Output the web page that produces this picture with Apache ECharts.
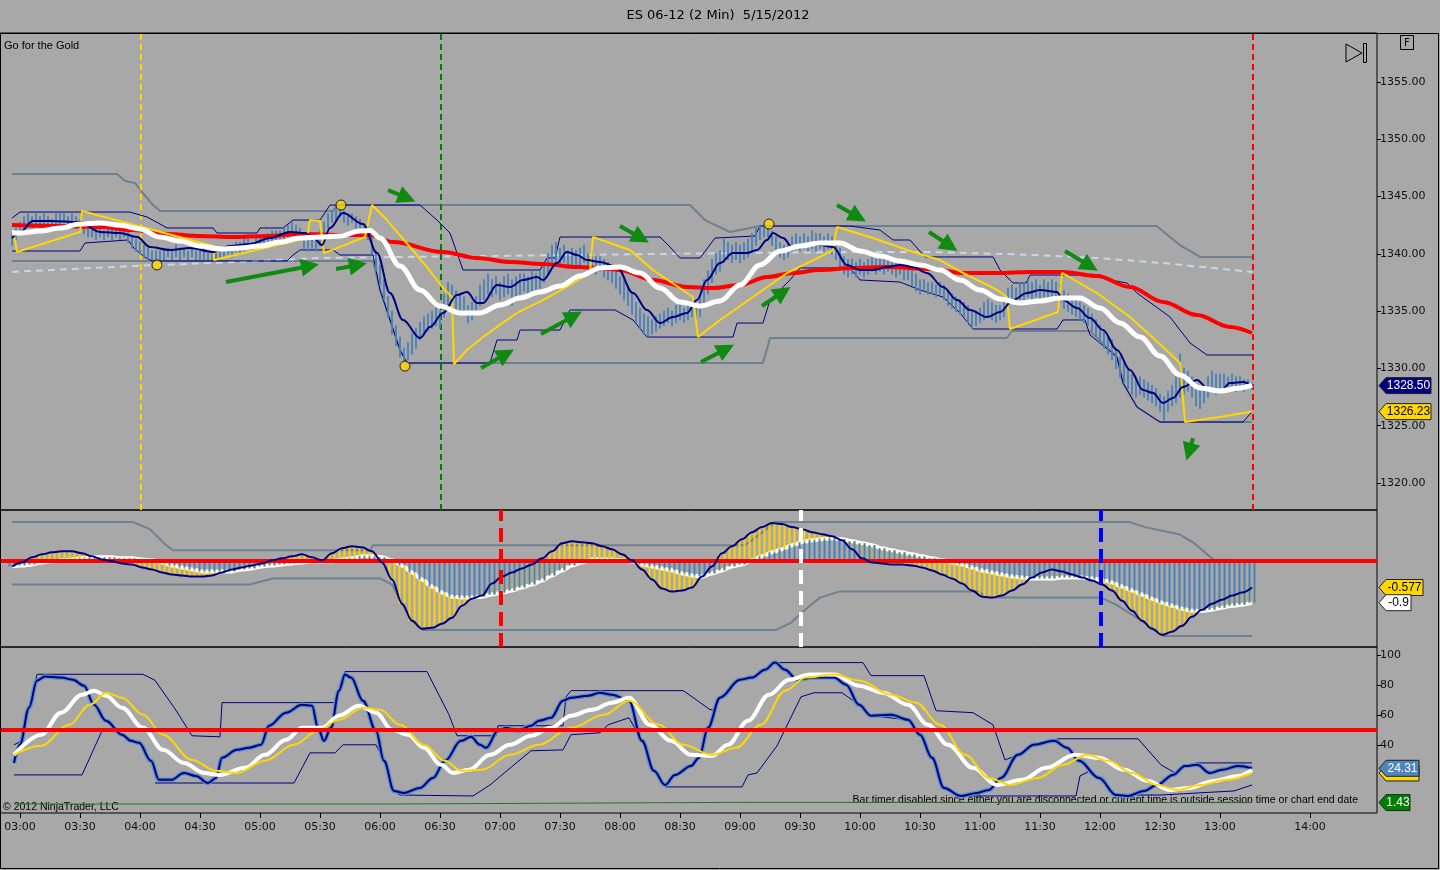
<!DOCTYPE html>
<html>
<head>
<meta charset="utf-8">
<title>ES 06-12 (2 Min) 5/15/2012</title>
<script src="https://cdn.jsdelivr.net/npm/echarts@6/dist/echarts.min.js"></script>
<style>
html,body{margin:0;padding:0;background:#a8a8a8;overflow:hidden;}
#chart{width:1440px;height:870px;}
</style>
</head>
<body>
<div id="chart"></div>
<script>
// ---------------- text ----------------
const chartTitle = 'ES 06-12 (2 Min)  5/15/2012';
const panelTitle = 'Go for the Gold';
const copyrightText = '\u00a9 2012 NinjaTrader, LLC';
const barTimerText = 'Bar timer disabled since either you are disconnected or current time is outside session time or chart end date';

// ---------------- ticks (minutes after 03:00) ----------------
const xTickMinutes = [0,30,60,90,120,150,180,210,240,270,300,330,360,390,420,450,480,510,540,570,600,645];
const xTickLabels = ['03:00','03:30','04:00','04:30','05:00','05:30','06:00','06:30','07:00','07:30','08:00','08:30','09:00','09:30','10:00','10:30','11:00','11:30','12:00','12:30','13:00','14:00'];
const priceTicks = [1320,1325,1330,1335,1340,1345,1350,1355];
const stochTicks = [40,60,80,100];

// ---------------- price bars (2-minute bars, first bar at minute -4) ----------------
const barStartMinute = -4;
const barStepMinutes = 2;
const barLow = [
1340.75,1341.25,1341.75,1342.25,1342.5,1342.25,1342.5,1342.25,1342.5,1342.5,
1342.25,1342.5,1342.5,1342.75,1342.25,1342.5,1342.25,1342.0,1341.75,1341.5,
1341.5,1341.25,1341.5,1341.25,1341.5,1341.25,1341.5,1341.25,1341.5,1341.0,
1340.5,1340.25,1340.0,1339.75,1339.5,1339.5,1339.5,1339.5,1339.5,1339.75,
1339.5,1339.75,1339.5,1339.75,1339.5,1339.75,1339.5,1339.5,1339.5,1339.5,
1339.5,1339.5,1339.5,1339.75,1340.0,1339.75,1340.25,1340.0,1340.25,1340.5,
1340.25,1340.5,1340.75,1340.5,1340.75,1341.0,1341.25,1341.0,1341.25,1341.5,
1341.75,1341.5,1341.25,1340.5,1340.25,1340.5,1340.25,1340.75,1341.5,1342.25,
1342.75,1343.0,1343.25,1342.75,1342.5,1342.75,1342.25,1342.0,1341.75,1341.25,
1340.0,1338.5,1337.25,1336.0,1334.5,1333.0,1332.0,1331.0,1330.5,1330.75,
1331.25,1331.75,1332.5,1333.0,1333.25,1333.5,1333.75,1333.5,1334.5,1335.5,
1335.75,1335.25,1335.0,1334.75,1334.0,1334.25,1334.75,1335.5,1336.0,1336.5,
1336.25,1336.5,1336.0,1336.25,1336.5,1335.5,1336.25,1336.5,1336.75,1336.5,
1336.75,1336.5,1337.0,1337.5,1338.25,1339.0,1339.25,1339.0,1339.25,1338.75,
1339.0,1338.75,1339.0,1339.25,1338.5,1338.75,1338.25,1338.5,1338.0,1337.75,
1337.5,1337.0,1336.5,1336.0,1335.5,1334.75,1334.0,1333.5,1333.0,1332.75,
1333.0,1333.25,1333.5,1333.75,1334.0,1333.75,1334.0,1334.25,1334.0,1334.25,
1334.5,1334.25,1334.5,1335.5,1336.5,1337.5,1338.25,1338.5,1339.25,1339.5,
1339.25,1339.5,1339.25,1339.5,1339.75,1340.25,1340.75,1341.25,1341.5,1341.5,
1340.75,1340.25,1339.75,1339.5,1339.75,1340.25,1340.5,1340.25,1340.5,1340.25,
1340.5,1340.25,1340.5,1340.25,1340.5,1340.0,1339.5,1338.75,1338.25,1338.0,
1338.25,1338.0,1338.25,1338.0,1338.25,1338.5,1338.25,1338.5,1338.25,1338.5,
1338.25,1338.0,1338.25,1337.75,1337.75,1337.25,1336.75,1336.5,1336.75,1336.5,
1336.5,1336.25,1336.5,1336.0,1335.5,1335.25,1335.0,1334.75,1334.5,1334.0,
1333.5,1333.75,1334.0,1334.25,1334.5,1334.25,1334.0,1334.25,1334.5,1335.25,
1335.75,1335.5,1335.75,1336.0,1336.25,1336.0,1336.25,1336.0,1336.25,1336.0,
1336.25,1336.0,1335.75,1335.25,1335.0,1334.75,1334.5,1334.25,1334.0,1333.75,
1333.25,1332.75,1332.25,1331.75,1331.25,1330.75,1330.0,1329.25,1328.75,1328.25,
1327.75,1327.5,1327.75,1327.5,1327.25,1327.0,1326.75,1326.25,1325.5,1326.25,
1326.75,1327.0,1327.5,1327.75,1328.0,1327.5,1326.75,1326.5,1327.0,1327.5,
1328.0,1327.75,1328.0,1328.25,1328.0,1328.25,1328.0,1328.25,1328.0,1328.25,
1328.25];
const barHigh = [
1341.75,1342.25,1342.75,1343.25,1343.5,1343.25,1343.5,1343.25,1343.5,1343.25,
1343.0,1343.5,1343.5,1343.5,1343.25,1343.5,1343.25,1343.0,1342.75,1342.5,
1342.25,1342.25,1342.5,1342.0,1342.25,1342.25,1342.25,1342.0,1342.25,1342.0,
1341.5,1341.25,1341.0,1340.75,1340.5,1340.25,1340.25,1340.25,1340.5,1340.5,
1340.25,1340.75,1340.5,1340.5,1340.25,1340.5,1340.25,1340.25,1340.5,1340.0,
1340.25,1340.0,1340.25,1340.5,1340.75,1340.75,1341.0,1341.0,1341.25,1341.25,
1341.0,1341.5,1341.5,1341.5,1341.75,1342.0,1342.0,1342.0,1342.25,1342.5,
1342.75,1342.5,1342.25,1341.75,1341.25,1341.5,1341.25,1342.0,1342.75,1343.5,
1343.75,1344.0,1344.25,1343.75,1343.5,1343.5,1343.25,1343.0,1342.5,1342.25,
1341.5,1340.25,1339.0,1337.75,1336.25,1335.0,1333.75,1332.75,1331.75,1332.25,
1333.0,1333.5,1334.0,1334.5,1334.75,1335.0,1335.25,1335.0,1336.5,1337.5,
1337.25,1336.75,1336.5,1336.25,1335.5,1335.75,1336.25,1337.25,1337.75,1338.25,
1337.75,1338.0,1337.5,1338.0,1338.25,1337.75,1338.0,1338.25,1338.25,1338.0,
1338.5,1338.25,1338.5,1339.25,1340.0,1340.75,1341.0,1340.5,1340.75,1340.25,
1340.5,1340.25,1340.5,1340.75,1340.0,1340.25,1339.75,1339.75,1339.5,1339.25,
1339.0,1338.5,1338.0,1337.75,1337.25,1336.5,1335.75,1335.25,1334.75,1334.5,
1334.25,1334.5,1334.75,1335.0,1335.25,1335.0,1335.5,1335.5,1335.25,1335.5,
1335.75,1335.5,1336.25,1337.75,1338.5,1339.5,1340.0,1340.25,1341.25,1341.0,
1340.75,1341.0,1340.75,1341.0,1341.25,1341.75,1342.25,1342.5,1342.5,1342.5,
1342.0,1341.5,1341.0,1340.75,1341.0,1341.5,1341.75,1341.5,1341.75,1341.5,
1342.0,1341.75,1341.75,1341.5,1341.75,1341.5,1341.0,1340.5,1339.75,1339.5,
1339.5,1339.25,1339.5,1339.25,1339.5,1339.75,1339.5,1339.75,1339.5,1339.5,
1339.25,1339.25,1339.5,1339.0,1339.0,1338.5,1338.25,1337.75,1337.75,1337.5,
1337.5,1337.25,1337.5,1337.25,1336.75,1336.5,1336.25,1336.0,1335.75,1335.5,
1335.0,1335.0,1335.25,1335.75,1336.0,1335.75,1335.5,1335.5,1336.0,1337.0,
1337.25,1337.0,1337.5,1337.5,1337.75,1337.5,1337.75,1337.25,1337.75,1337.5,
1337.75,1337.5,1337.25,1336.75,1336.5,1336.25,1336.0,1335.75,1335.5,1335.25,
1334.75,1334.25,1333.75,1333.25,1332.75,1332.5,1331.75,1331.0,1330.5,1330.0,
1329.5,1329.25,1329.25,1329.0,1328.75,1328.5,1328.25,1327.75,1327.5,1328.0,
1328.5,1329.25,1331.25,1330.0,1329.75,1329.25,1328.5,1328.25,1328.5,1329.25,
1329.75,1329.5,1329.5,1329.5,1329.25,1329.5,1329.25,1329.25,1329.0,1329.0,
1328.75];

// ---------------- price-panel indicator lines [minute, price] ----------------
const fastMA = [[-4,1341.38],[0,1341.9],[6.5,1342.87],[15,1342.87],[30,1342.78],[40,1341.91],[50,1341.82],[58.5,1341.47],[65,1340.6],[75,1340.34],[85,1340.51],[96.5,1340.16],[105,1340.69],[115,1340.86],[125,1341.38],[135,1341.91],[142.5,1341.82],[147,1341.38],[151,1340.77],[155,1342.26],[161.5,1343.57],[171.5,1342.61],[178.5,1340.07],[185,1336.58],[191.5,1334.23],[200,1332.66],[205,1333.62],[211.5,1334.84],[218.5,1336.41],[223.5,1336.67],[228.5,1335.71],[231.5,1335.71],[238.5,1337.28],[245,1337.11],[251.5,1337.72],[258.5,1337.98],[261.5,1337.72],[268.5,1339.2],[273.5,1340.16],[278.5,1339.9],[283.5,1339.46],[290,1339.29],[298.5,1338.85],[306.5,1336.58],[313.5,1335.1],[320,1333.96],[326.5,1334.49],[333.5,1334.84],[338.5,1335.97],[343.5,1337.72],[350,1339.2],[356.5,1340.07],[363.5,1340.07],[368.5,1340.34],[373.5,1341.21],[376.5,1341.82],[381.5,1341.38],[386.5,1340.51],[393.5,1340.77],[400,1340.77],[406.5,1340.6],[413.5,1339.03],[420,1338.59],[426.5,1338.59],[433.5,1338.85],[440,1339.03],[446.5,1338.85],[453.5,1338.33],[461.5,1337.11],[468.5,1335.97],[475,1335.1],[483.5,1334.49],[490,1334.92],[496.5,1335.97],[503.5,1336.58],[510,1336.84],[518.5,1336.67],[521.5,1335.97],[528.5,1335.27],[535,1334.4],[541.5,1333.35],[548.5,1331.61],[555,1329.86],[561.5,1328.12],[566.5,1327.85],[571.5,1326.98],[576.5,1327.42],[581.5,1328.38],[588.5,1328.99],[593.5,1328.29],[600,1327.94],[605,1328.73],[611.5,1328.82],[616,1328.5]];
const whiteMA = [[-4,1341.82],[0,1341.82],[10,1342.0],[20,1342.26],[30,1342.6],[40,1342.7],[50,1342.5],[60,1342.17],[70,1341.47],[80,1341.12],[90,1340.69],[100,1340.42],[110,1340.51],[120,1340.69],[130,1341.03],[140,1341.38],[150,1341.47],[160,1341.56],[170,1342.0],[175,1342.05],[180,1341.38],[190,1338.94],[200,1336.85],[210,1335.45],[220,1334.84],[230,1334.84],[240,1335.54],[250,1336.15],[260,1336.67],[270,1337.19],[280,1338.07],[290,1338.77],[300,1338.85],[310,1338.33],[320,1337.02],[330,1335.8],[340,1335.45],[350,1335.89],[360,1337.28],[370,1339.03],[380,1340.25],[390,1340.69],[400,1340.95],[410,1340.95],[420,1340.25],[430,1339.81],[440,1339.38],[450,1339.03],[460,1338.59],[470,1337.72],[480,1336.85],[490,1336.06],[500,1335.71],[510,1335.89],[520,1336.15],[530,1336.15],[540,1335.27],[550,1333.97],[560,1332.74],[570,1331.08],[580,1329.43],[590,1328.29],[600,1328.03],[610,1328.29],[616,1328.55]];
const redMA = [[-4,1342.52],[20,1342.43],[40,1342.34],[56.5,1342.08],[73.5,1341.73],[90,1341.56],[106.5,1341.47],[123.5,1341.56],[140,1341.73],[161.5,1341.65],[175,1341.65],[186.5,1341.03],[211.5,1340.16],[228.5,1339.64],[245,1339.29],[261.5,1339.11],[278.5,1338.85],[295,1338.68],[300,1338.59],[316.5,1337.72],[333.5,1337.11],[346.5,1337.02],[360,1337.28],[373.5,1337.98],[386.5,1338.33],[400,1338.59],[416.5,1338.77],[433.5,1338.85],[455,1338.68],[471.5,1338.33],[488.5,1338.33],[505,1338.42],[521.5,1338.42],[538.5,1338.07],[555,1337.11],[571.5,1335.8],[588.5,1334.66],[605,1333.62],[616,1333.09]];
const dashMA = [[-4,1338.42],[56.5,1338.94],[96.5,1339.2],[150,1339.64],[200,1339.75],[300,1339.95],[360,1340.07],[420,1340.16],[455,1340.16],[500,1339.95],[538.5,1339.64],[571.5,1339.2],[616,1338.42]];
const yellowStop = [[-3.5,1342.08],[-1.5,1340.16],[30,1341.91],[31,1343.74],[96.5,1340.69],[97,1339.46],[143.5,1341.38],[145,1342.95],[150,1342.87],[152,1340.07],[172.5,1341.47],[176,1344.26],[183.5,1342.95],[195,1340.6],[203.5,1338.85],[211.5,1337.02],[216,1336.23],[217,1330.39],[223.5,1331.61],[231.5,1332.74],[238.5,1333.62],[248.5,1334.84],[261.5,1335.97],[275,1337.28],[285,1338.33],[286.5,1341.47],[305,1340.34],[316.5,1338.59],[336.5,1336.23],[339,1332.74],[350,1334.23],[366.5,1336.23],[383.5,1338.33],[400,1339.73],[406.5,1340.34],[408.5,1342.34],[426.5,1341.38],[446.5,1340.16],[460,1339.46],[471.5,1338.33],[488.5,1336.85],[493.5,1336.23],[495,1333.44],[519,1334.92],[521,1338.33],[538.5,1336.58],[555,1334.49],[571.5,1331.87],[580,1330.47],[582.5,1325.32],[600,1325.75],[616,1326.23]];
const navyUpper = [[-4,1343.13],[0,1343.65],[55,1343.65],[63.5,1343.22],[70,1342.61],[73.5,1342.26],[96.5,1342.26],[98.5,1341.82],[118.5,1341.82],[120,1342.26],[131.5,1342.26],[136.5,1342.95],[150,1342.95],[155,1344.26],[200,1344.26],[208.5,1342.95],[215,1341.82],[221.5,1338.59],[260,1338.59],[263.5,1339.64],[267.5,1339.64],[270,1341.47],[320,1341.47],[325,1340.6],[330,1339.64],[340,1339.64],[347.5,1341.38],[367.5,1341.56],[370,1342.43],[415,1342.43],[430,1342.08],[436.5,1341.21],[445,1341.21],[452.5,1339.73],[486.5,1339.73],[490,1338.59],[496.5,1337.46],[503,1337.46],[505,1338.15],[540,1338.15],[545,1337.72],[553.5,1337.46],[558.5,1336.58],[575,1334.49],[585,1332.22],[593.5,1331.17],[616,1331.17]];
const navyLower = [[-4,1340.25],[30,1340.25],[32.5,1340.95],[54,1341.21],[57,1340.5],[62,1339.75],[66,1339.38],[133.5,1339.38],[136.5,1339.9],[140,1340.34],[156.5,1340.34],[160,1339.9],[176.5,1339.9],[180,1336.85],[185,1334.23],[190,1331.61],[193.5,1330.47],[235,1330.47],[238.5,1332.48],[248.5,1332.48],[250,1333.35],[270,1333.35],[275,1335.1],[297.5,1335.1],[306.5,1334.23],[313.5,1332.74],[356.5,1332.74],[358.5,1333.96],[371.5,1333.96],[375,1335.97],[385,1337.72],[390,1338.77],[415,1338.77],[420,1337.72],[440,1337.54],[450,1336.85],[461.5,1336.23],[470,1334.84],[476.5,1333.44],[518.5,1333.44],[521.5,1334.23],[532.5,1334.23],[535,1332.92],[548.5,1331.0],[551.5,1328.73],[558.5,1326.63],[570,1325.32],[611.5,1325.32],[616,1326.2]];
const grayUpper = [[-4,1346.97],[48.5,1346.97],[52.5,1346.36],[57.5,1346.18],[61,1345.4],[66.5,1344.26],[70,1343.74],[156.5,1343.74],[158.5,1344.26],[335,1344.26],[342.5,1342.95],[355,1341.91],[370,1342.43],[568.5,1342.43],[572.5,1341.82],[580,1340.77],[590,1339.73],[616,1339.73]];
const grayLower = [[-4,1339.38],[176.5,1339.38],[180,1336.85],[185,1334.23],[190,1331.61],[193.5,1330.47],[371.5,1330.47],[375,1332.66],[493.5,1332.66],[496,1333.27],[535,1333.27],[541,1332.25],[548.5,1331.0],[551.5,1328.73],[558.5,1326.63],[570,1325.32],[616,1325.32]];

// ---------------- annotations in the price panel ----------------
const mainMarkerMinutes = [60.5, 210.5, 616.5];
const pivotDots = [[68.5,1339.03],[160.5,1344.26],[192.5,1330.2],[374.5,1342.6]];
const arrowSegments = [[103,1337.54,145,1338.94],[158,1338.68,169,1339.03],[184,1345.57,193.5,1344.88],[300,1342.43,310.5,1341.38],[230.5,1330.04,243,1331.26],[260.5,1333.0,277,1334.58],[340.5,1330.56,353,1331.7],[371,1335.45,381.5,1336.67],[408.5,1344.26,419,1343.22],[454.5,1341.91,465,1340.69],[522.5,1340.25,535,1338.94],[586.5,1323.9,584.5,1322.71]];
const annotText = ['HI','HI','LO'];
const annotMinute = [270, 374, 314];
const annotPrice = [1343.13, 1344.44, 1330.65];

// ---------------- MACD panel (5-minute samples from minute -4) ----------------
const macdStartMinute = -4;
const macdStepMinutes = 5;
const macdVals = [
-0.128,-0.043,0.064,0.128,0.171,0.193,0.193,0.15,0.086,0.021,
-0.021,-0.064,-0.086,-0.15,-0.193,-0.257,-0.3,-0.321,-0.343,-0.343,
-0.321,-0.257,-0.193,-0.15,-0.107,-0.064,0,0.043,0.086,0.128,
0.064,0,0.15,0.257,0.3,0.278,0.193,-0.043,-0.407,-0.921,
-1.285,-1.456,-1.435,-1.349,-1.221,-0.964,-0.814,-0.749,-0.493,-0.343,
-0.257,-0.171,-0.086,0.043,0.193,0.364,0.407,0.385,0.364,0.3,
0.236,0.128,0,-0.193,-0.407,-0.6,-0.664,-0.642,-0.578,-0.343,
-0.128,0.15,0.3,0.45,0.6,0.707,0.792,0.771,0.707,0.664,
0.6,0.557,0.514,0.428,0.236,0.043,-0.043,-0.064,-0.086,-0.086,
-0.107,-0.15,-0.214,-0.3,-0.385,-0.493,-0.642,-0.771,-0.792,-0.749,
-0.642,-0.514,-0.364,-0.257,-0.193,-0.236,-0.3,-0.364,-0.428,-0.514,
-0.642,-0.857,-1.071,-1.285,-1.456,-1.585,-1.52,-1.392,-1.199,-1.049,
-0.921,-0.835,-0.749,-0.685,-0.577];
const signalVals = [
-0.128,-0.107,-0.086,-0.043,-0.021,0,0.021,0.043,0.064,0.064,
0.064,0.043,0.043,0.021,0,-0.043,-0.107,-0.15,-0.193,-0.236,
-0.236,-0.236,-0.236,-0.193,-0.171,-0.128,-0.107,-0.086,-0.064,-0.043,
-0.021,-0.021,-0.021,0.021,0.043,0.086,0.086,0.064,0,-0.107,
-0.257,-0.407,-0.557,-0.685,-0.771,-0.792,-0.792,-0.771,-0.728,-0.685,
-0.642,-0.578,-0.514,-0.428,-0.321,-0.214,-0.107,-0.043,0.021,0.021,
0.021,0,-0.021,-0.086,-0.128,-0.171,-0.214,-0.278,-0.321,-0.343,
-0.278,-0.214,-0.128,-0.086,0,0.086,0.171,0.236,0.321,0.385,
0.428,0.45,0.471,0.45,0.407,0.364,0.321,0.257,0.214,0.171,
0.128,0.086,0.043,0,-0.043,-0.086,-0.15,-0.214,-0.257,-0.3,
-0.343,-0.364,-0.385,-0.385,-0.385,-0.364,-0.364,-0.364,-0.385,-0.407,
-0.471,-0.557,-0.642,-0.728,-0.814,-0.899,-0.964,-1.028,-1.071,-1.071,
-1.049,-1.006,-0.964,-0.942,-0.9];
const macdBandUpper = [[-4,0.814],[56.5,0.814],[65,0.664],[72.5,0.343],[76.5,0.214],[175,0.214],[176.5,0.321],[362.5,0.321],[370,0.557],[377.5,0.814],[555,0.814],[562.5,0.707],[579.5,0.557],[586.5,0.385],[596.5,0.021],[616,0]];
const macdBandLower = [[-4,-0.514],[115,-0.514],[122.5,-0.428],[126.5,-0.385],[180,-0.385],[186,-0.514],[191,-0.921],[196,-1.285],[201.5,-1.478],[378,-1.478],[385.5,-1.328],[392.5,-1.049],[400,-0.792],[409.5,-0.664],[480,-0.664],[482.5,-0.792],[540.5,-0.792],[548,-0.942],[560,-1.263],[572,-1.606],[616,-1.606]];
const macdMarkerMinutes = [240.5, 390.5, 540.5];

// ---------------- stochastic panel [minute, value] ----------------
const kLine = [[-3,27.9],[0,40.0],[4.5,64.7],[8.5,82.8],[12.5,85.5],[20.5,84.8],[26.5,83.4],[32,79.4],[37,66.7],[43,56.0],[51,46.7],[55.5,42.6],[59.5,41.3],[65.5,29.3],[69.5,16.6],[75.5,16.6],[82,21.2],[88,19.2],[94,14.5],[98,17.9],[101,31.3],[108.5,36.6],[114.5,38.0],[120.5,40.0],[124.5,52.7],[133,61.4],[141,66.7],[146,66.1],[149,51.3],[152,42.6],[155.5,51.3],[159.5,76.1],[162.5,86.8],[165.5,84.8],[171.5,69.4],[178,49.3],[182,29.3],[187,9.2],[192,7.9],[200,11.2],[206.5,17.9],[212.5,29.3],[220.5,42.6],[225.5,45.3],[230,40.0],[233,38.0],[239,49.3],[243,51.3],[249,49.3],[255.5,52.7],[259.5,56.0],[265.5,58.0],[271.5,69.4],[275.5,71.4],[284,72.7],[290,74.7],[296,73.4],[304.5,69.4],[311,42.6],[317,22.6],[322.5,13.2],[327.5,19.9],[335.5,25.9],[339.5,31.3],[344,51.3],[350,71.4],[360,83.4],[366,84.8],[372.5,90.1],[377.5,94.8],[382.5,90.1],[388.5,83.4],[397,84.8],[407,84.8],[413,80.1],[419.5,66.7],[425.5,59.4],[435.5,60.0],[444,56.7],[450,46.7],[456,31.3],[462,11.2],[470.5,5.85],[478.5,7.9],[484.5,9.9],[490.5,17.9],[499,33.3],[507,40.0],[517,42.6],[523.5,38.0],[529.5,29.3],[539.5,17.9],[548,6.5],[554,5.85],[562,9.2],[568.5,13.2],[576.5,19.9],[582.5,25.9],[588.5,26.6],[595,21.2],[601,23.3],[609,25.9],[616,24.31]];
const dLine = [[-3,33.3],[10.5,46.7],[20.5,61.4],[31,73.4],[37,76.1],[43,72.7],[51,64.7],[61.5,51.3],[71.5,36.6],[82,27.9],[92,21.2],[100,19.9],[112.5,24.6],[122.5,33.3],[133,43.3],[141,51.3],[151,51.3],[159.5,59.4],[169.5,66.1],[178,61.4],[186,50.0],[194,46.7],[202,38.0],[210.5,26.6],[216.5,21.2],[224.5,23.3],[235,33.3],[245,40.0],[255.5,46.0],[265.5,51.3],[275.5,59.4],[286,63.4],[296,68.1],[304.5,71.4],[315,53.3],[325.5,42.6],[335.5,33.3],[346,32.6],[354,40.0],[364,56.0],[374.5,73.4],[384.5,83.4],[395,86.8],[407,86.8],[419.5,79.4],[431.5,74.7],[444,66.7],[454,53.3],[464,40.0],[476.5,24.6],[488.5,13.2],[501,16.6],[513,24.6],[527.5,33.3],[539.5,31.3],[552,23.3],[564,15.9],[574.5,9.9],[584.5,11.2],[597,15.9],[609,19.2],[616,23.3]];
const slowLine = [[-3,33.3],[10.5,39.3],[24.5,53.3],[35,66.7],[43,74.7],[51,71.4],[61.5,60.0],[71.5,46.7],[86,29.9],[98,22.6],[108.5,21.2],[122.5,29.3],[137,40.0],[149,49.3],[159.5,56.7],[171.5,64.7],[180,63.4],[190,53.3],[202,40.0],[212.5,29.3],[220.5,22.6],[231,23.3],[245,33.3],[259.5,40.0],[275.5,51.3],[292,60.0],[304.5,69.4],[319.5,53.3],[331.5,40.0],[346,33.3],[358,38.0],[370.5,53.3],[382.5,76.1],[393,84.8],[407,86.8],[419.5,82.8],[435.5,73.4],[448,68.1],[460,53.3],[472.5,33.3],[484.5,17.9],[495,13.2],[509,17.9],[521.5,26.6],[533.5,33.3],[544,29.3],[556,21.2],[568.5,13.2],[578.5,9.9],[590.5,13.2],[603,16.6],[616,21.2]];
const stUpper = [[-3,40.0],[0,42.0],[4.5,64.7],[8.5,87.0],[61.5,87.0],[67.5,83.0],[78,63.0],[86,46.0],[100,45.3],[101,68.1],[157.5,68.1],[160,80.0],[162.5,88.8],[203.5,88.8],[214.5,60.0],[218.5,46.0],[238,46.0],[239,52.7],[271.5,52.7],[273,72.0],[275.5,76.1],[331.5,76.1],[335,73.0],[345,63.4],[347.5,63.4],[350,71.4],[360,83.4],[366,84.8],[372.5,90.1],[377.5,94.8],[421.5,94.8],[425.5,86.1],[452,86.1],[458,62.7],[476.5,61.4],[486.5,53.3],[492.5,29.9],[499,33.3],[507,40.0],[519.5,44.0],[559,44.0],[570.5,26.6],[578.5,20.5],[582.5,25.9],[588.5,27.9],[616,27.9]];
const stLower = [[-3,19.9],[31,19.9],[41,49.3],[41.5,'-'],[67.5,14.5],[137,14.5],[145,34.6],[157.5,34.6],[161.5,40.0],[178,40.0],[182,29.3],[187,9.2],[190,6.5],[226.5,5.85],[235,13.2],[247,26.6],[255.5,36.0],[271.5,36.6],[275.5,46.7],[290,48.0],[294,53.3],[304.5,58.0],[311,42.6],[317,22.6],[322.5,11.9],[361,11.9],[364,19.9],[368.5,21.2],[378.5,39.3],[390.5,72.0],[397,74.7],[411,74.7],[419.5,66.7],[425.5,59.4],[444,56.7],[450,46.7],[456,31.3],[462,11.2],[470.5,5.85],[528,5.85],[530,19.2],[535,22.6],[540,17.9],[548,6.5],[570.5,6.5],[607,9.2],[616,13.2]];
const greenLine = [[-3,0.5],[186,0.5],[187,1.6],[360,1.6],[361,1.2],[616,1.43]];

// ---------------- chart ----------------
const X_MIN = -10, X_MAX = 678.5;
const chart = echarts.init(document.getElementById('chart'), null, {renderer: 'canvas'});
const AXIS_FONT = 'DejaVu Sans';

function ln(g, data, color, width, z, extra) {
  return Object.assign({
    type: 'line', xAxisIndex: g, yAxisIndex: g, data: data,
    symbol: 'none', showSymbol: false, silent: true, z: z,
    connectNulls: false,
    lineStyle: {color: color, width: width}
  }, extra || {});
}

function fmtTime(v) {
  const i = xTickMinutes.indexOf(Math.round(v));
  return i >= 0 ? xTickLabels[i] : '';
}

const bars = barLow.map((l, i) => [barStartMinute + barStepMinutes * i, l, barHigh[i]]);
const macdData = macdVals.map((m, i) => [macdStartMinute + macdStepMinutes * i, m, signalVals[i]]);
const macdLine = macdData.map(d => [d[0], d[1]]);
const signalLine = macdData.map(d => [d[0], d[2]]);

const mainMarkerColors = ['#ffd700', '#008000', '#ff0000'];
const macdMarkerColors = ['#ff0000', '#ffffff', '#0000ff'];
const annotColors = ['#ff0000', '#0000ff', '#ffffff'];

const smoothOpt = {smooth: 0.35, smoothMonotone: 'x'};
const noZero = {onZero: false, show: false};

const option = {
  backgroundColor: '#a8a8a8',
  animation: false,
  grid: [
    {left: 0, right: 63, top: 33, height: 477, show: true, borderColor: '#000', borderWidth: 1, backgroundColor: 'transparent'},
    {left: 0, right: 63, top: 510, height: 137, show: true, borderColor: '#000', borderWidth: 1, backgroundColor: 'transparent'},
    {left: 0, right: 63, top: 647, height: 166, show: true, borderColor: '#000', borderWidth: 1, backgroundColor: 'transparent'}
  ],
  xAxis: [
    {type: 'value', gridIndex: 0, min: X_MIN, max: X_MAX, show: false, axisLine: noZero},
    {type: 'value', gridIndex: 1, min: X_MIN, max: X_MAX, show: false, axisLine: noZero},
    {type: 'value', gridIndex: 2, min: X_MIN, max: X_MAX, position: 'bottom',
      axisLine: noZero,
      axisTick: {show: true, length: 5, lineStyle: {color: '#000'}, customValues: xTickMinutes},
      axisLabel: {customValues: xTickMinutes, formatter: fmtTime, color: '#111', fontFamily: AXIS_FONT, fontSize: 11, margin: 9},
      splitLine: {show: false}}
  ],
  yAxis: [
    {type: 'value', gridIndex: 0, position: 'right', min: 1317.64, max: 1359.28,
      axisLine: noZero,
      axisTick: {show: true, length: 4, lineStyle: {color: '#000'}, customValues: priceTicks},
      axisLabel: {customValues: priceTicks, formatter: v => Number(v).toFixed(2), color: '#111', fontFamily: AXIS_FONT, fontSize: 11, margin: 3},
      splitLine: {show: false}},
    {type: 'value', gridIndex: 1, position: 'right', min: -1.842, max: 1.071, show: false, axisLine: noZero},
    {type: 'value', gridIndex: 2, position: 'right', min: -5.5, max: 105.2,
      axisLine: noZero,
      axisTick: {show: true, length: 4, lineStyle: {color: '#000'}, customValues: stochTicks},
      axisLabel: {customValues: stochTicks, color: '#111', fontFamily: AXIS_FONT, fontSize: 11, margin: 3},
      splitLine: {show: false}}
  ],
  series: [
    // ----- price panel -----
    ln(0, grayUpper, '#708090', 2, 2, {
      markLine: {silent: true, z: 3, symbol: ['none', 'none'], label: {show: false},
        data: mainMarkerMinutes.map((t, i) => ({xAxis: t, lineStyle: {color: mainMarkerColors[i], width: 2, type: [6, 4]}}))}
    }),
    ln(0, grayLower, '#708090', 2, 2),
    ln(0, dashMA, '#c9d6ea', 2, 2, {lineStyle: {color: '#c9d6ea', width: 2, type: [7, 5]}}),
    ln(0, navyUpper, '#000080', 1, 3),
    ln(0, navyLower, '#000080', 1, 3),
    {
      type: 'custom', xAxisIndex: 0, yAxisIndex: 0, silent: true, z: 4,
      data: bars,
      encode: {x: 0, y: [1, 2]},
      renderItem: function (params, api) {
        const lo = api.coord([api.value(0), api.value(1)]);
        const hi = api.coord([api.value(0), api.value(2)]);
        return {type: 'line', shape: {x1: lo[0], y1: lo[1] + 0.5, x2: hi[0], y2: hi[1] - 0.5},
          style: {stroke: '#4a80b8', lineWidth: 1.8}};
      }
    },
    ln(0, redMA, '#ff0000', 4, 5, smoothOpt),
    ln(0, yellowStop, '#ffd700', 2, 6),
    ln(0, fastMA, '#000080', 2, 7, smoothOpt),
    ln(0, whiteMA, '#ffffff', 5, 8, smoothOpt),
    {
      type: 'lines', coordinateSystem: 'cartesian2d', xAxisIndex: 0, yAxisIndex: 0, silent: true, z: 9,
      symbol: ['none', 'triangle'], symbolSize: 18,
      lineStyle: {color: '#118a11', width: 4, opacity: 1, curveness: 0},
      data: arrowSegments.map(a => ({coords: [[a[0], a[1]], [a[2], a[3]]]}))
    },
    {
      type: 'scatter', xAxisIndex: 0, yAxisIndex: 0, silent: true, z: 10,
      symbol: 'circle', symbolSize: 10,
      itemStyle: {color: '#ffd700', borderColor: '#000', borderWidth: 1},
      data: pivotDots
    },
    {
      type: 'scatter', xAxisIndex: 0, yAxisIndex: 0, silent: true, z: 10,
      symbolSize: 1, itemStyle: {opacity: 0},
      label: {show: true, position: 'inside', formatter: p => p.name, fontFamily: 'DejaVu Sans', fontWeight: 'bold', fontSize: 19},
      data: annotText.map((s, i) => ({name: s, value: [annotMinute[i], annotPrice[i]], label: {color: annotColors[i]}}))
    },
    // ----- MACD panel -----
    ln(1, macdBandUpper, '#708090', 2, 2),
    ln(1, macdBandLower, '#708090', 2, 2),
    ln(1, signalLine, '#ffffff', 4, 3, smoothOpt),
    {
      type: 'custom', xAxisIndex: 1, yAxisIndex: 1, silent: true, z: 4,
      data: macdData,
      encode: {x: 0, y: [1, 2]},
      renderItem: function (params, api) {
        const t = api.value(0), m = api.value(1), s = api.value(2);
        const p0 = api.coord([t, 0]), ps = api.coord([t, s]), pm = api.coord([t, m]);
        const kids = [];
        [-2.5, 2.5].forEach(function (dx) {
          kids.push({type: 'rect', shape: {x: p0[0] + dx - 1, y: Math.min(pm[1], ps[1]), width: 2, height: Math.abs(ps[1] - pm[1])}, style: {fill: '#ffd200'}});
          kids.push({type: 'rect', shape: {x: p0[0] + dx - 1, y: Math.min(p0[1], ps[1]), width: 2, height: Math.abs(ps[1] - p0[1])}, style: {fill: '#4a80b8'}});
        });
        return {type: 'group', children: kids};
      }
    },
    ln(1, macdLine, '#000080', 2, 7, Object.assign({
      markLine: {silent: true, z: 6, symbol: ['none', 'none'], label: {show: false},
        data: [{yAxis: 0, lineStyle: {color: '#ff0000', width: 4, type: 'solid'}}]}
    }, smoothOpt)),
    ln(1, signalLine, '#ffffff', 0, 1, {
      lineStyle: {opacity: 0},
      markLine: {silent: true, z: 8, symbol: ['none', 'none'], label: {show: false},
        data: macdMarkerMinutes.map((t, i) => ({xAxis: t, lineStyle: {color: macdMarkerColors[i], width: 4, type: [14, 7]}}))}
    }),
    // ----- stochastic panel -----
    ln(2, greenLine, '#1d7a1d', 1, 2),
    ln(2, stUpper, '#000080', 1, 3),
    ln(2, stLower, '#000080', 1, 3),
    ln(2, kLine, '#5b8fc8', 4.5, 4, smoothOpt),
    ln(2, kLine, '#000080', 2, 5, smoothOpt),
    ln(2, dLine, '#ffffff', 4, 6, smoothOpt),
    ln(2, slowLine, '#ffd700', 2, 7, Object.assign({
      markLine: {silent: true, z: 9, symbol: ['none', 'none'], label: {show: false},
        data: [{yAxis: 50, lineStyle: {color: '#ff0000', width: 4, type: 'solid'}}]}
    }, smoothOpt))
  ]
};

chart.setOption(option);

// ---------------- value tags on the right axis and static texts ----------------
function last(arr) { return arr[arr.length - 1]; }
const tagDefs = [
  [0, last(fastMA)[1], Number(last(fastMA)[1]).toFixed(2), '#000080', '#ffffff', 52],
  [0, last(yellowStop)[1], Number(last(yellowStop)[1]).toFixed(2), '#ffd700', '#000000', 52],
  [1, last(macdVals), String(last(macdVals)), '#ffd700', '#000000', 44],
  [1, last(signalVals), String(last(signalVals)), '#ffffff', '#000000', 32],
  [2, last(slowLine)[1], '', '#ffd700', '#000000', 40],
  [2, last(kLine)[1], String(last(kLine)[1]), '#4f86c0', '#ffffff', 40],
  [2, last(greenLine)[1], String(last(greenLine)[1]), '#008000', '#ffffff', 31]
];
const X0 = 1379;
const graphics = [];
tagDefs.forEach(function (d) {
  const y = chart.convertToPixel({yAxisIndex: d[0]}, d[1]);
  const w = d[5];
  graphics.push({
    type: 'polygon', silent: true, z: 100,
    shape: {points: [[X0, y], [X0 + 7, y - 8], [X0 + w, y - 8], [X0 + w, y + 8], [X0 + 7, y + 8]]},
    style: {fill: d[3], stroke: '#222', lineWidth: 1}
  });
  if (d[2]) {
    graphics.push({
      type: 'text', silent: true, z: 101, x: X0 + 7 + (w - 7) / 2, y: y,
      style: {text: d[2], fill: d[4], font: '12px "Liberation Sans"', align: 'center', verticalAlign: 'middle'}
    });
  }
});
graphics.push(
  {type: 'text', silent: true, x: 718, y: 16, style: {text: chartTitle, fill: '#000', font: '13px "DejaVu Sans"', align: 'center', verticalAlign: 'middle'}},
  {type: 'text', silent: true, x: 4, y: 46, style: {text: panelTitle, fill: '#000', font: '11px "Liberation Sans"', align: 'left', verticalAlign: 'middle'}},
  {type: 'text', silent: true, x: 3, y: 807, style: {text: copyrightText, fill: '#000', font: '10.5px "Liberation Sans"', align: 'left', verticalAlign: 'middle'}},
  {type: 'text', silent: true, x: 1358, y: 800, style: {text: barTimerText, fill: '#000', font: '10.5px "Liberation Sans"', align: 'right', verticalAlign: 'middle'}},
  {type: 'polygon', silent: true, shape: {points: [[1346, 44], [1362, 53], [1346, 62]]}, style: {fill: 'none', stroke: '#000', lineWidth: 1}},
  {type: 'rect', silent: true, shape: {x: 1363.5, y: 43.5, width: 3, height: 19}, style: {fill: 'none', stroke: '#000', lineWidth: 1}},
  {type: 'rect', silent: true, shape: {x: 1400.5, y: 35.5, width: 13, height: 14}, style: {fill: 'none', stroke: '#000', lineWidth: 1}},
  {type: 'text', silent: true, x: 1407, y: 43, style: {text: 'F', fill: '#000', font: '10px "DejaVu Sans"', align: 'center', verticalAlign: 'middle'}},
  {type: 'rect', silent: true, z: 50, shape: {x: 0.5, y: 33.5, width: 1438, height: 835}, style: {fill: 'none', stroke: '#000', lineWidth: 1}}
);
chart.setOption({graphic: graphics});
</script>
</body>
</html>
